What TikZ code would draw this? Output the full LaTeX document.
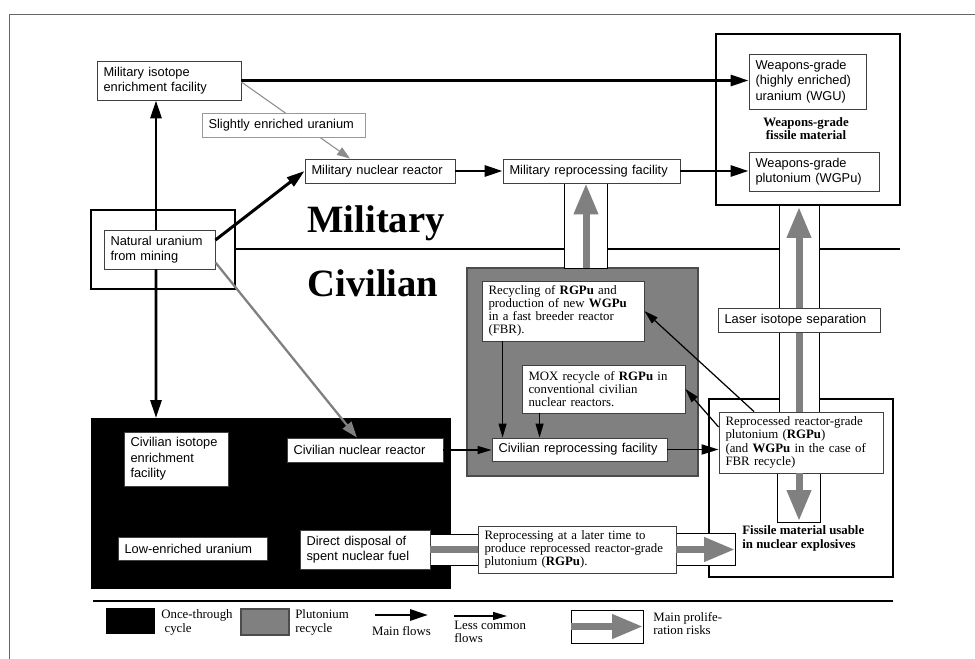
\documentclass[tikz,border=0pt]{standalone}
\usepackage{fontspec}
\setmainfont{Liberation Serif}
\setsansfont{Liberation Sans}
\usetikzlibrary{arrows.meta}

\newcommand{\boxsf}{\sffamily\fontsize{7.3}{8.8}\selectfont}
\newcommand{\boxrm}{\rmfamily\fontsize{7.3}{7.5}\selectfont}
\newcommand{\boxbf}{\rmfamily\bfseries\fontsize{7.3}{7.5}\selectfont}
\newcommand{\sidefont}{\rmfamily\bfseries\fontsize{22}{24}\selectfont}

\begin{document}
\begin{tikzpicture}[x=0.02cm, y=-0.02cm,
  sbox/.style={draw=black!75, line width=0.5pt, fill=white, font=\boxsf, align=left, inner xsep=0.13cm, inner ysep=0pt},
  rbox/.style={sbox, font=\boxrm},
  heavy/.style={line width=1.2pt},
  column/.style={draw=black, line width=0.5pt, fill=white},
  mainflow/.style={line width=1.7pt, -{Triangle[length=0.36cm,width=0.22cm]}},
  midflow/.style={line width=1.1pt, -{Triangle[length=0.34cm,width=0.2cm]}},
  minorflow/.style={line width=0.7pt, -{Triangle[length=0.28cm,width=0.16cm]}},
  greyflow/.style={draw=gray, line width=1.3pt, -{Triangle[length=0.32cm,width=0.22cm]}},
  lightflow/.style={draw=black!45, line width=0.6pt, -{Triangle[length=0.26cm,width=0.18cm]}},
  risk/.style={draw=gray, line width=0.14cm, -{Triangle[length=0.62cm,width=0.46cm]}},
  riskline/.style={draw=gray, line width=0.14cm}]

\useasboundingbox (0,0) rectangle (975,659);

% AREAS %%%%%%%%%%%%%%%%%%%%%%%%%%%%%%%%%%%%%%%%%%%%%%%%%%%%%%%%%%%%%%%%%%

\draw[black!60, line width=0.5pt] (9,659) -- (9,14) -- (975,14);

\fill (91,418) rectangle (451,589);
\draw[draw=black!70, fill=gray, line width=0.8pt] (467,268) rectangle (698,476);

\draw[heavy] (91,210) rectangle (235,289);
\draw[heavy] (716,34) rectangle (900,205);
\draw[heavy] (709,399) rectangle (893,577);

\draw[line width=1.5pt] (235,249) -- (900,249);
\draw[line width=1.1pt] (93,601) -- (893,601);

% columns of the main risks
\draw[column] (564,183) rectangle (607,268);
\draw[column] (779,205) rectangle (819,412);
\draw[column] (777,473) rectangle (820,522);
\draw[column] (430,534) rectangle (478,565);
\draw[column] (676,533) rectangle (735,565);

% NODES %%%%%%%%%%%%%%%%%%%%%%%%%%%%%%%%%%%%%%%%%%%%%%%%%%%%%%%%%%%%%%%%%%

\node[sbox, minimum width=2.88cm, minimum height=0.78cm, text width=2.62cm] (milenr) at (169,80.5) {Military isotope\\enrichment facility};
\node[sbox, minimum width=3.00cm, minimum height=0.48cm, text width=2.74cm] (milreac) at (380,171) {Military nuclear reactor};
\node[sbox, minimum width=2.22cm, minimum height=0.78cm, text width=1.96cm] (natu) at (159.5,249.5) {Natural uranium\\from mining};
\node[sbox, minimum width=3.54cm, minimum height=0.48cm, text width=3.28cm] (milrep) at (591.5,171) {Military reprocessing facility};
\node[sbox, minimum width=2.34cm, minimum height=1.10cm, text width=2.08cm] (wgu) at (807.5,81.5) {Weapons-grade\\(highly enriched)\\uranium (WGU)};
\node[sbox, minimum width=2.60cm, minimum height=0.78cm, text width=2.34cm] (wgpu) at (814,171.5) {Weapons-grade\\plutonium (WGPu)};

\node[sbox, minimum width=2.08cm, minimum height=1.08cm, text width=1.82cm] (civenr) at (176,459) {Civilian isotope\\enrichment\\facility};
\node[sbox, minimum width=3.12cm, minimum height=0.48cm, text width=2.86cm] (civreac) at (365,450) {Civilian nuclear reactor};
\node[sbox, minimum width=2.98cm, minimum height=0.46cm, text width=2.72cm] (leu) at (192.5,548.5) {Low-enriched uranium};
\node[sbox, minimum width=2.60cm, minimum height=0.78cm, text width=2.34cm] (disposal) at (365,549.5) {Direct disposal of\\spent nuclear fuel};
\node[sbox, minimum width=3.50cm, minimum height=0.46cm, text width=3.24cm] (civrep) at (579.5,449.5) {Civilian reprocessing facility};

\node[rbox, minimum width=3.24cm, minimum height=1.20cm, text width=2.98cm] (fbr) at (563,311) {Recycling of \textbf{RGPu} and\\production of new \textbf{WGPu}\\in a fast breeder reactor\\(FBR).};
\node[rbox, minimum width=3.26cm, minimum height=0.96cm, text width=3.00cm] (mox) at (603.5,389) {MOX recycle of \textbf{RGPu} in\\conventional civilian\\nuclear reactors.};
\node[rbox, minimum width=3.28cm, minimum height=1.22cm, text width=3.02cm] (rgpu) at (801,442.5) {Reprocessed reactor-grade\\plutonium (\textbf{RGPu})\\(and \textbf{WGPu} in the case of\\FBR recycle)};
\node[rbox, minimum width=3.96cm, minimum height=0.94cm, text width=3.70cm] (later) at (577,549.5) {Reprocessing at a later time to\\produce reprocessed reactor-grade\\plutonium (\textbf{RGPu}).};

\coordinate (OTtop) at (156,418);
\coordinate (PuTop) at (586,268);
\coordinate (WGBottom) at (799,207);
\coordinate (FisTop) at (799,521);
\coordinate (FisLeft) at (735,549.5);
\coordinate (fbrout) at ([xshift=0.42cm]fbr.south west);
\coordinate (moxout) at ([xshift=0.36cm]mox.south west);

% LINKS %%%%%%%%%%%%%%%%%%%%%%%%%%%%%%%%%%%%%%%%%%%%%%%%%%%%%%%%%%%%%%%%%%

\draw[risk] (PuTop) -- (PuTop |- milrep.south);
\draw[risk] (rgpu.north -| WGBottom) -- (WGBottom);
\draw[risk] (rgpu.south -| FisTop) -- (FisTop);
\draw[riskline] (disposal.east) -- (later.west);
\draw[risk] (later.east) -- (FisLeft);

\draw[mainflow] (milenr.east) -- (milenr.east -| wgu.west);
\draw[lightflow] ([yshift=-0.03cm]milenr.east) -- ([xshift=-0.6cm]milreac.north);
\draw[mainflow] ([xshift=-0.07cm]natu.north) -- ([xshift=-0.07cm]natu.north |- milenr.south);
\draw[mainflow] ([yshift=0.19cm]natu.east) -- (milreac.west);
\draw[mainflow] ([xshift=-0.07cm]natu.south) -- (OTtop);
\draw[greyflow] ([yshift=0.14cm]natu.south east) -- ([xshift=-0.16cm]civreac.north);
\draw[mainflow] (milreac.east) -- (milrep.west);
\draw[mainflow] (milrep.east) -- (milrep.east -| wgpu.west);

\draw[minorflow] (civreac.east) -- (civreac.east -| civrep.west);
\draw[midflow] (civrep.east) -- (civrep.east -| rgpu.west);
\draw[minorflow] (fbrout) -- (fbrout |- civrep.north);
\draw[minorflow] (moxout) -- (moxout |- civrep.north);
\draw[minorflow] ([xshift=-0.94cm]rgpu.north) -- (fbr.east);
\draw[minorflow] ([yshift=0.31cm]rgpu.west) -- (mox.east);

% boxes lying over the links
\node[sbox, draw=black!40, minimum width=3.26cm, minimum height=0.48cm, text width=3.00cm] (seu) at (283.5,125) {Slightly enriched uranium};
\node[sbox, minimum width=3.24cm, minimum height=0.48cm, text width=2.98cm] (laser) at (799,320) {Laser isotope separation};

% LABELS

\node[font=\sidefont, anchor=base west, inner sep=0pt] (lblmil) at (307,232) {Military};
\node[font=\sidefont, anchor=base west, inner sep=0pt] (lblciv) at (307,296) {Civilian};
\node[font=\boxbf, align=center, inner sep=0pt] (lblwg) at (806,128.5) {Weapons-grade\\fissile material};
\node[font=\boxbf, align=left, anchor=west, inner sep=0pt] (lblfis) at (742,538.5) {Fissile material usable\\in nuclear explosives};

% LEGEND

\fill (106,608) rectangle (155,634);
\node[font=\boxrm, align=left, anchor=west, inner sep=0pt] (lgonce) at (161,622.5) {Once-through\\~cycle};
\draw[draw=black!70, fill=gray, line width=0.8pt] (241,609) rectangle (289,635);
\node[font=\boxrm, align=left, anchor=west, inner sep=0pt] (lgpu) at (295,622.5) {Plutonium\\recycle};

\coordinate (lgmainA) at (375,615);
\coordinate (lgmainB) at (428,615);
\draw[mainflow] (lgmainA) -- (lgmainB);
\node[font=\boxrm, inner sep=0pt] (lgmain) at (401.5,631) {Main flows};

\coordinate (lglessA) at (454,616);
\coordinate (lglessB) at (507,616);
\draw[minorflow] (lglessA) -- (lglessB);
\node[font=\boxrm, align=left, anchor=west, inner sep=0pt] (lgless) at (454,632) {Less common\\flows};

\draw[column] (571,610) rectangle (643,643);
\coordinate (lgriskA) at (571,626.5);
\coordinate (lgriskB) at (643,626.5);
\draw[risk] (lgriskA) -- (lgriskB);
\node[font=\boxrm, align=left, anchor=west, inner sep=0pt] (lgrisk) at (653,623.5) {Main prolife-\\ration risks};

\end{tikzpicture}
\end{document}
